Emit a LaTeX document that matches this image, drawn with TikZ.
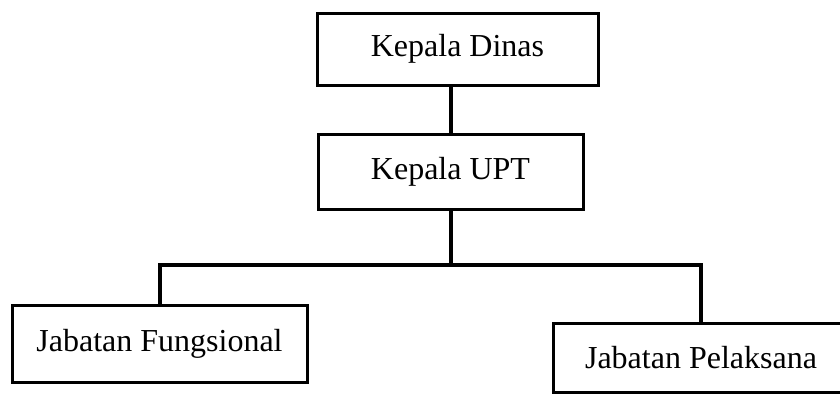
\documentclass[tikz,border=0pt]{standalone}
\usepackage{fontspec}
\setmainfont{Liberation Serif}
\begin{document}
\begin{tikzpicture}[x=1pt,y=-1pt,
  box/.style={draw, line width=3pt, inner sep=0pt, font=\fontsize{32}{37}\selectfont},
  link/.style={line width=4pt}]
\useasboundingbox (0,0) rectangle (840,397);
\node[box, minimum width=281pt, minimum height=72pt] (dinas) at (457.5,49) {Kepala Dinas};
\node[box, minimum width=265pt, minimum height=75pt] (upt) at (450.5,172) {Kepala UPT};
\node[box, minimum width=295pt, minimum height=77pt] (fung) at (159.5,343.5) {Jabatan Fungsional};
\node[box, minimum width=296pt, minimum height=69pt] (pel) at (701,357.5) {Jabatan Pelaksana};
\coordinate (bus) at (452,265);
\draw[link] (upt.north |- dinas.south) -- (upt.north);
\draw[link] (upt.south) -- (upt.south |- bus);
\draw[link] (fung.north) |- (bus) -| (pel.north);
\end{tikzpicture}
\end{document}
